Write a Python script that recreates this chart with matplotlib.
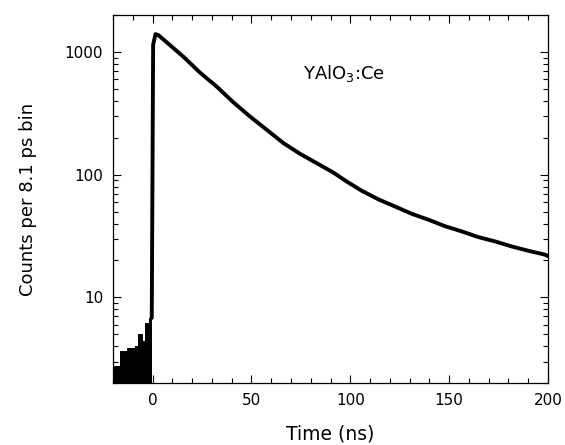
import matplotlib
matplotlib.use("Agg")
import matplotlib.pyplot as plt
from matplotlib.ticker import MultipleLocator, LogLocator, NullFormatter, FixedLocator

plt.rcParams['font.family'] = ['DejaVu Sans']
plt.rcParams['mathtext.default'] = 'regular'

# Pre-trigger noise (bin edges in ns, counts)
noise_edges = [-20, -16.4, -13.1, -10.9, -8.9, -7.5, -4.6, -3.8, -1.8, -0.4]
noise_counts = [2.75, 3.66, 3.89, 3.89, 4.0, 5.0, 4.4, 6.2, 6.8]

# Decay curve
time_ns = [-0.4, 0.3, 1.5, 2.9, 7.2, 15.6, 24, 32.5, 40.9, 49.3, 57.8, 66.2, 74.6,
           83.1, 91.5, 98.2, 105.8, 114.2, 122.7, 131.1, 139.5, 148, 156.4, 164.8,
           173.2, 181.7, 190, 198.5, 200]
counts = [6.8, 1150, 1400, 1375, 1200, 916, 680, 522, 389, 298, 232, 181, 148,
          124, 104, 88, 74, 63, 55, 48, 43, 38, 34.5, 31, 28.6, 26, 24, 22.3, 21.7]

x_major = [0, 50, 100, 150, 200]
y_major = [10, 100, 1000]
y_labels = ['10', '100', '1000']

fig = plt.figure(figsize=(5.65, 4.45), dpi=100)
ax = fig.add_axes([0.2, 0.139, 0.770, 0.827])

ax.stairs(noise_counts, noise_edges, baseline=1, fill=True, color='black', lw=0)
ax.plot(time_ns, counts, color='black', lw=2.8, solid_joinstyle='round',
        solid_capstyle='round')

ax.set_yscale('log')
ax.set_xlim(-20, 200)
ax.set_ylim(2, 2000)

ax.xaxis.set_major_locator(FixedLocator(x_major))
ax.set_xticklabels([str(v) for v in x_major])
ax.xaxis.set_minor_locator(MultipleLocator(10))
ax.yaxis.set_major_locator(FixedLocator(y_major))
ax.set_yticklabels(y_labels)
ax.yaxis.set_minor_locator(LogLocator(base=10, subs=range(2, 10)))
ax.yaxis.set_minor_formatter(NullFormatter())

ax.tick_params(which='both', direction='in', top=True, right=True, width=0.8,
               labelsize=11, pad=7)
ax.tick_params(which='major', length=6)
ax.tick_params(which='minor', length=3.5)
for s in ax.spines.values():
    s.set_linewidth(0.9)

ax.set_xlabel('Time (ns)', fontsize=13.5, labelpad=12)
ax.set_ylabel('Counts per 8.1 ps bin', fontsize=13, labelpad=20)

ax.text(76, 603, 'YAlO$_3$:Ce', fontsize=13, ha='left', va='baseline')

fig.savefig('out.png', dpi=100)
